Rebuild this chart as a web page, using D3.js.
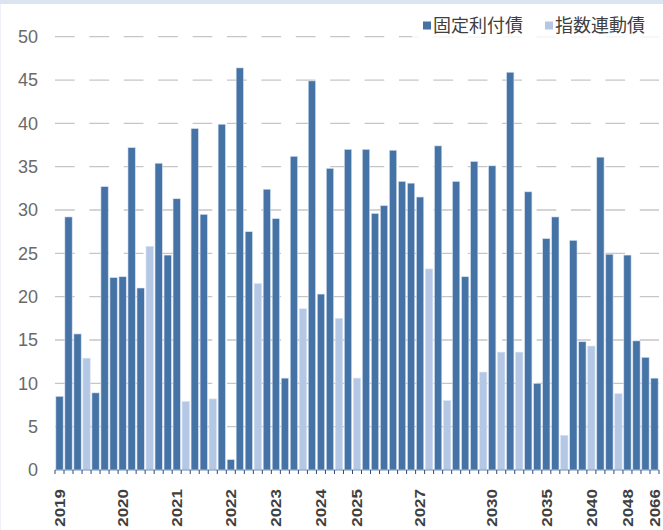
<!DOCTYPE html>
<html>
<head>
<meta charset="utf-8">
<script src="https://cdn.jsdelivr.net/npm/d3@7"></script>
<style>
  body { margin: 0; background: #fff; }
  svg { display: block; }
</style>
</head>
<body>
<div id="chart"></div>
<script>
// one bar per bond issue, each belongs to exactly one series (null = other series)
const fixedRate = [
  8.5, 29.2, 15.7, null, 8.9, 32.7, 22.2, 22.3, 37.2, 21.0,
  null, 35.4, 24.8, 31.3, null, 39.4, 29.5, null, 39.9, 1.2,
  46.4, 27.5, null, 32.4, 29.0, 10.6, 36.2, null, 44.9, 20.3,
  34.8, null, 37.0, null, 37.0, 29.6, 30.5, 36.9, 33.3, 33.1,
  31.5, null, 37.4, null, 33.3, 22.3, 35.6, null, 35.1, null,
  45.9, null, 32.1, 10.0, 26.7, 29.2, null, 26.5, 14.8, null,
  36.1, 24.9, null, 24.8, 14.9, 13.0, 10.6
];
const indexLinked = [
  null, null, null, 12.9, null, null, null, null, null, null,
  25.8, null, null, null, 7.9, null, null, 8.2, null, null,
  null, null, 21.5, null, null, null, null, 18.6, null, null,
  null, 17.5, null, 10.6, null, null, null, null, null, null,
  null, 23.2, null, 8.0, null, null, null, 11.3, null, 13.6,
  null, 13.6, null, null, null, null, 4.0, null, null, 14.3,
  null, null, 8.8, null, null, null, null
];
const categories = [
  '2019', '', '', '', '', '', '', '2020', '', '',
  '', '', '', '2021', '', '', '', '', '', '2022',
  '', '', '', '', '2023', '', '', '', '', '2024',
  '', '', '', '2025', '', '', '', '', '', '',
  '2027', '', '', '', '', '', '', '', '2030', '',
  '', '', '', '', '2035', '', '', '', '', '2040',
  '', '', '', '2048', '', '', '2066'
];
const yTicks = [0, 5, 10, 15, 20, 25, 30, 35, 40, 45, 50];
const seriesNames = ['固定利付債', '指数連動債'];

const W = 663, H = 530;
const plotLeft = 55, plotRight = 659, plotTop = 36.7, plotBottom = 470;
const darkBlue = '#4573a6', lightBlue = '#b4c8e5';

const svg = d3.select('#chart').append('svg')
  .attr('width', W)
  .attr('height', H);

// thin frame strip at the top
svg.append('rect').attr('x', 0).attr('y', 0).attr('width', W).attr('height', 4)
  .attr('fill', '#dbe5f2');
svg.append('rect').attr('x', 0).attr('y', 4).attr('width', 1).attr('height', H - 4)
  .attr('fill', '#eef2f8');

const bars = fixedRate.map(function(v, i) {
  return v != null
    ? { i: i, value: v, color: darkBlue }
    : { i: i, value: indexLinked[i], color: lightBlue };
});

const x = d3.scaleBand()
  .domain(d3.range(categories.length))
  .range([plotLeft, plotRight])
  .paddingInner(0.19)
  .paddingOuter(0.095);

const y = d3.scaleLinear().domain([0, 50]).range([plotBottom, plotTop]);

// grid
svg.append('g')
  .selectAll('line')
  .data(yTicks.filter(function(t) { return t > 0; }))
  .enter().append('line')
  .attr('x1', plotLeft)
  .attr('x2', plotRight)
  .attr('y1', function(d) { return y(d); })
  .attr('y2', function(d) { return y(d); })
  .attr('stroke', '#c6c6c6')
  .attr('stroke-width', 1.3)
  .attr('stroke-dasharray', '19.7,14.7');

// y labels
svg.append('g')
  .selectAll('text')
  .data(yTicks)
  .enter().append('text')
  .attr('x', 38)
  .attr('y', function(d) { return y(d); })
  .attr('dy', '0.35em')
  .attr('text-anchor', 'end')
  .attr('font-family', 'Liberation Sans, Arial, sans-serif')
  .attr('font-size', 18)
  .attr('fill', '#6a6a6a')
  .text(function(d) { return d; });

// bars
svg.append('g')
  .selectAll('rect')
  .data(bars)
  .enter().append('rect')
  .attr('x', function(d) { return x(d.i); })
  .attr('y', function(d) { return y(d.value); })
  .attr('width', x.bandwidth())
  .attr('height', function(d) { return plotBottom - y(d.value); })
  .attr('fill', function(d) { return d.color; })
  .attr('stroke', '#d6e0ef')
  .attr('stroke-width', 0.6);

// x axis with rotated labels (slightly squeezed like the original)
const xAxis = svg.append('g')
  .attr('transform', 'translate(0,' + plotBottom + ')')
  .call(d3.axisBottom(x).tickSize(0).tickFormat(function(i) { return categories[i]; }));

xAxis.select('.domain').remove();
xAxis.selectAll('text')
  .attr('transform', 'rotate(-90) scale(1,0.85)')
  .attr('x', -19)
  .attr('y', 0)
  .attr('dy', '0.36em')
  .attr('text-anchor', 'end')
  .attr('font-family', 'Liberation Sans, Arial, sans-serif')
  .attr('font-size', 17)
  .attr('font-weight', 'bold')
  .attr('fill', '#404040');

svg.append('line')
  .attr('x1', plotLeft).attr('x2', plotRight)
  .attr('y1', plotBottom).attr('y2', plotBottom)
  .attr('stroke', '#7f95b8')
  .attr('stroke-width', 1);

const step = x.step();
const edges = d3.range(categories.length + 1).map(function(i) {
  return plotLeft + step * 0.095 - step * 0.19 / 2 + i * step;
});
svg.append('g')
  .selectAll('line')
  .data(edges)
  .enter().append('line')
  .attr('x1', function(d) { return d; })
  .attr('x2', function(d) { return d; })
  .attr('y1', plotBottom)
  .attr('y2', plotBottom + 4)
  .attr('stroke', '#2d4a78')
  .attr('stroke-width', 1);

// legend
svg.append('rect')
  .attr('x', 412).attr('y', 10).attr('width', 250).attr('height', 27.6)
  .attr('fill', '#fff').attr('opacity', 0.85);

const legendX = [423, 545];
const legend = svg.append('g')
  .selectAll('g')
  .data(seriesNames)
  .enter().append('g')
  .attr('transform', function(d, i) { return 'translate(' + legendX[i] + ',0)'; });

legend.append('rect')
  .attr('x', 0).attr('y', 21.5)
  .attr('width', 8).attr('height', 8)
  .attr('fill', function(d, i) { return i === 0 ? darkBlue : lightBlue; });

legend.append('text')
  .attr('x', 10)
  .attr('y', 32)
  .attr('font-family', 'Noto Sans CJK JP, sans-serif')
  .attr('font-size', 18)
  .attr('fill', '#404040')
  .text(function(d) { return d; });
</script>
</body>
</html>
